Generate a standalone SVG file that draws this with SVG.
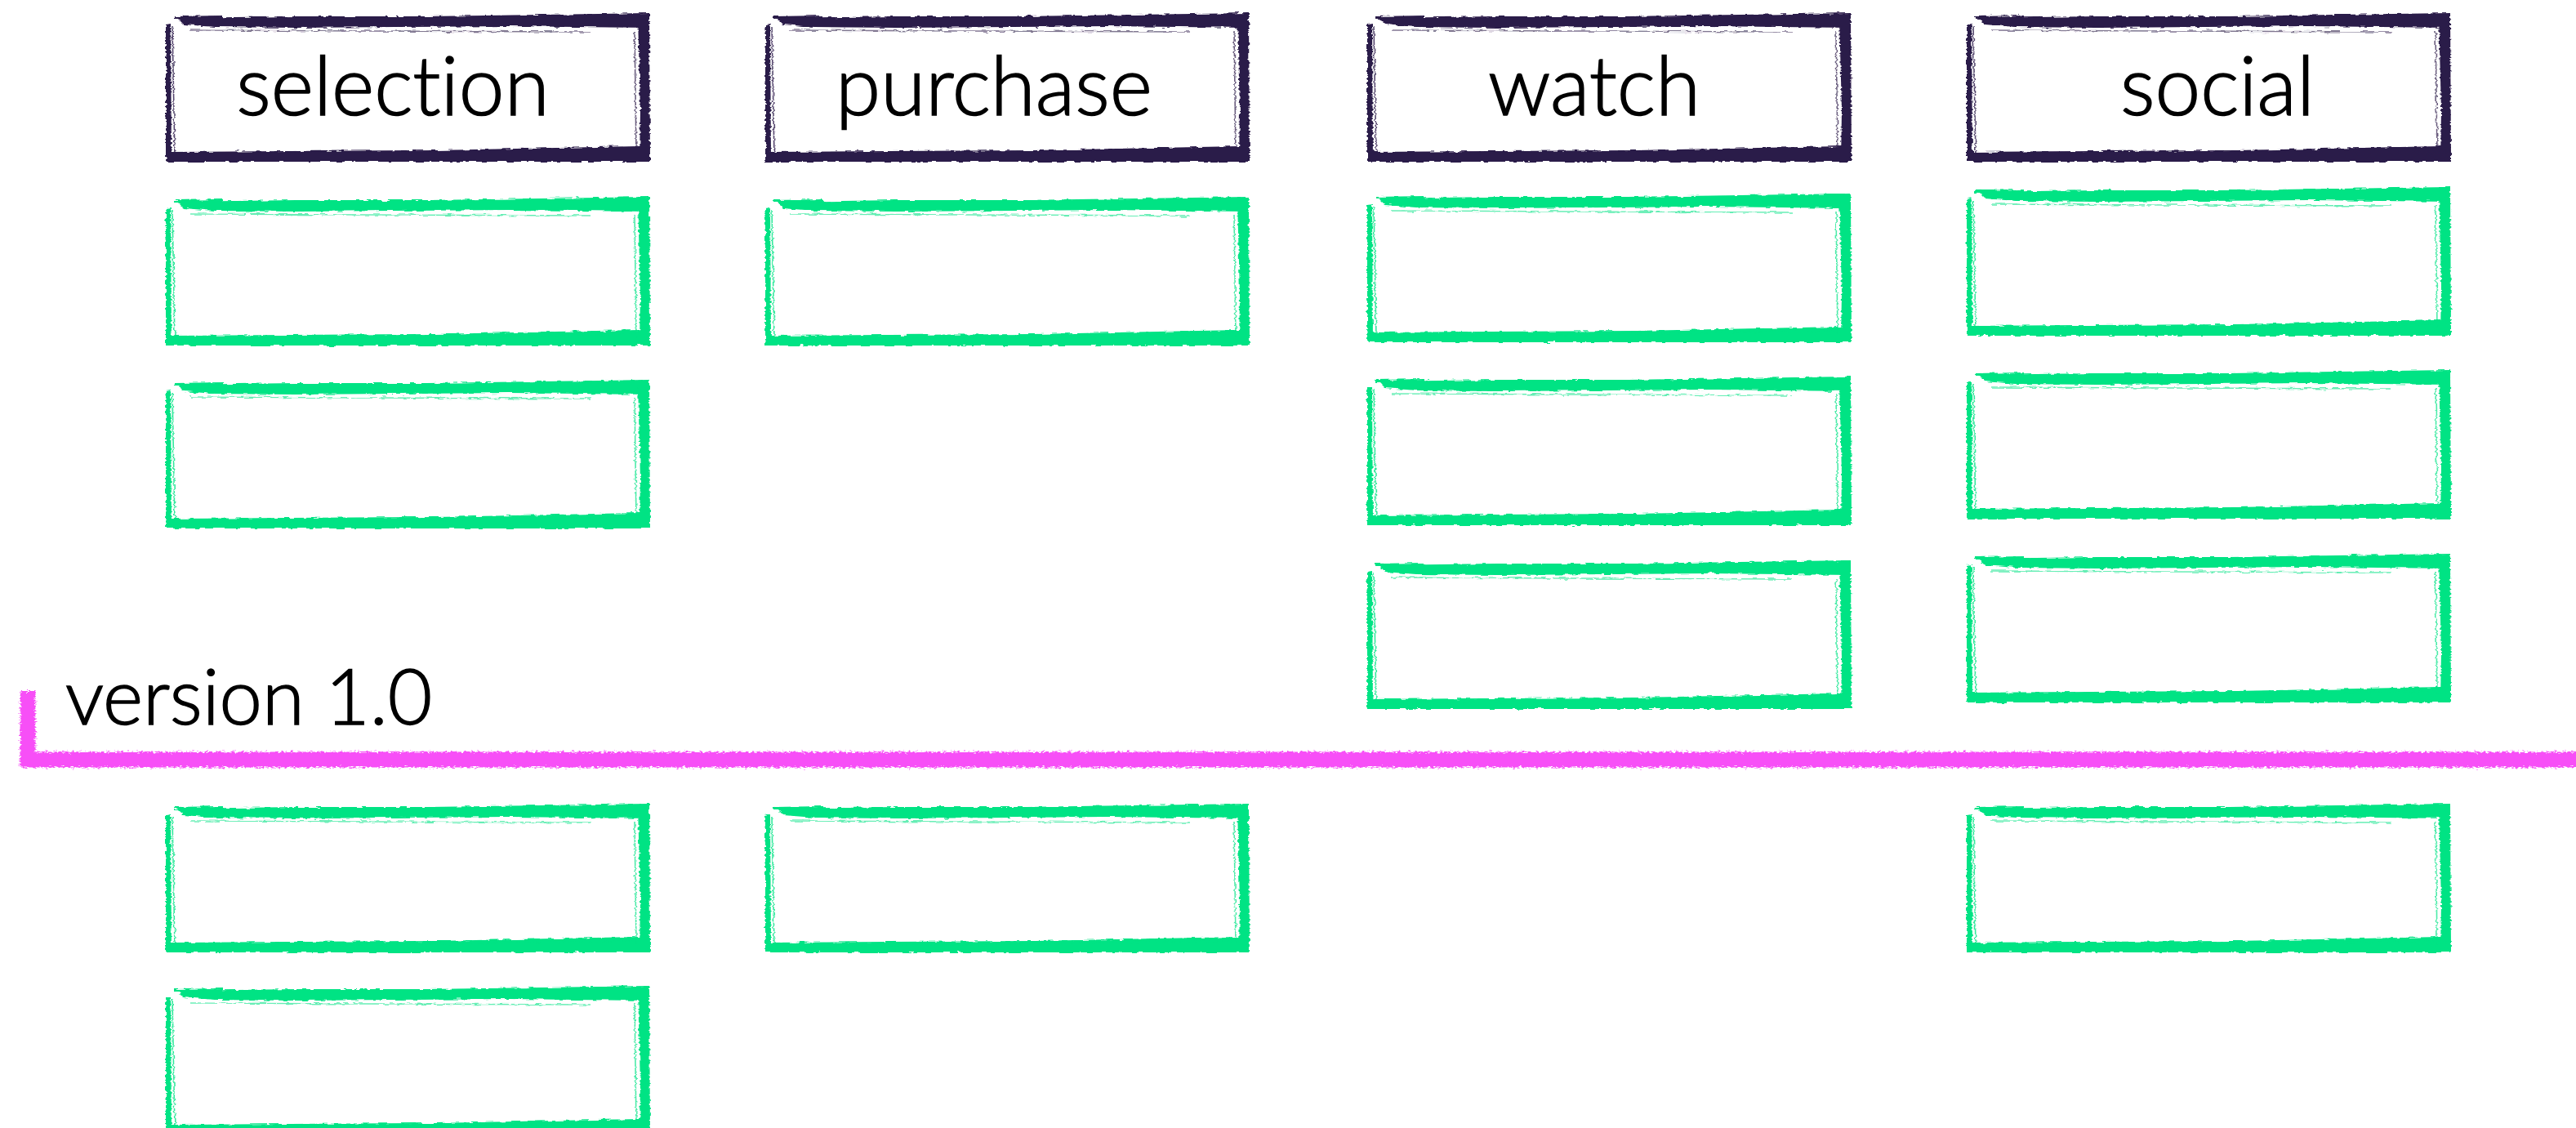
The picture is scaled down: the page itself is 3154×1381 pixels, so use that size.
<svg xmlns="http://www.w3.org/2000/svg" xmlns:xlink="http://www.w3.org/1999/xlink" width="3154" height="1381" viewBox="0 0 3154 1381">
<style>
.hdr{color:#2c1c4a}
.card{color:#02e384}
.lbl{font-family:Lato,"Noto Sans","Liberation Sans",sans-serif;font-weight:300;font-size:100px;fill:#000;stroke:#000;stroke-width:1.6;text-anchor:middle;font-variant-ligatures:none}
.ver{font-family:Lato,"Noto Sans","Liberation Sans",sans-serif;font-weight:300;font-size:94px;fill:#000;stroke:#000;stroke-width:1.5;font-variant-ligatures:none}
</style>
<defs>
<filter id="rough" x="-3%" y="-8%" width="106%" height="116%">
<feTurbulence type="fractalNoise" baseFrequency="0.09 0.35" numOctaves="2" seed="3" result="n"/>
<feDisplacementMap in="SourceGraphic" in2="n" scale="5" xChannelSelector="R" yChannelSelector="G"/>
</filter>
<filter id="chalk" x="-1%" y="-50%" width="102%" height="200%">
<feTurbulence type="fractalNoise" baseFrequency="0.25 0.6" numOctaves="2" seed="7" result="n"/>
<feDisplacementMap in="SourceGraphic" in2="n" scale="8" xChannelSelector="R" yChannelSelector="G"/>
</filter>
<g id="box" fill="currentColor" stroke="none">
<path d="M14,6 L160,4 L320,4 L592,0 L592,18 L420,16 L160,18 L60,17 L22,14 Z"/>
<path d="M10,4 L70,3 L70,6 L10,7 Z"/>
<path d="M578,4 L592,0 L593,181 L580,181 L581,120 Z"/>
<path d="M2,170 L150,169 L330,168 L580,163 L592,162 L592,182 L2,182 Z"/>
<path d="M0,14 L6,13 L7,182 L0,182 Z"/>
<path d="M8,16 L11,176" stroke="currentColor" stroke-width="1.6" fill="none" opacity="0.8"/>
<path d="M14,175 L300,172 L572,168" stroke="currentColor" stroke-width="1.4" fill="none" opacity="0.7"/>
<path d="M30,21 L250,22 L520,23" stroke="currentColor" stroke-width="1.4" fill="none" opacity="0.6"/>
<path d="M574,22 L576,172" stroke="currentColor" stroke-width="1.6" fill="none" opacity="0.7"/>
</g>
</defs>

<g id="connectors">
<g id="version-line" fill="none" stroke="#f74ff7" filter="url(#chalk)">
<path d="M34,846 L34,930 L3160,930" stroke-width="19" stroke-linejoin="miter"/>
</g>
</g>

<g id="header-selection" class="hdr" filter="url(#rough)"><use xlink:href="#box" x="203" y="16"/></g>
<g id="header-purchase" class="hdr" filter="url(#rough)"><use xlink:href="#box" x="937" y="16"/></g>
<g id="header-watch" class="hdr" filter="url(#rough)"><use xlink:href="#box" x="1674" y="16"/></g>
<g id="header-social" class="hdr" filter="url(#rough)"><use xlink:href="#box" x="2408" y="16"/></g>

<g id="header-labels">
<text class="lbl" x="481" y="141">selection</text>
<text class="lbl" x="1217" y="141">purchase</text>
<text class="lbl" x="1952" y="141">watch</text>
<text class="lbl" x="2715" y="141">social</text>
</g>

<g id="card-sel-1" class="card" filter="url(#rough)"><use xlink:href="#box" x="203" y="241"/></g>
<g id="card-sel-2" class="card" filter="url(#rough)"><use xlink:href="#box" x="203" y="465"/></g>
<g id="card-pur-1" class="card" filter="url(#rough)"><use xlink:href="#box" x="937" y="241"/></g>
<g id="card-wat-1" class="card" filter="url(#rough)"><use xlink:href="#box" x="1674" y="237"/></g>
<g id="card-wat-2" class="card" filter="url(#rough)"><use xlink:href="#box" x="1674" y="461"/></g>
<g id="card-wat-3" class="card" filter="url(#rough)"><use xlink:href="#box" x="1674" y="686"/></g>
<g id="card-soc-1" class="card" filter="url(#rough)"><use xlink:href="#box" x="2408" y="229"/></g>
<g id="card-soc-2" class="card" filter="url(#rough)"><use xlink:href="#box" x="2408" y="453"/></g>
<g id="card-soc-3" class="card" filter="url(#rough)"><use xlink:href="#box" x="2408" y="678"/></g>

<g id="card-sel-3" class="card" filter="url(#rough)"><use xlink:href="#box" x="203" y="984"/></g>
<g id="card-sel-4" class="card" filter="url(#rough)"><use xlink:href="#box" x="203" y="1207"/></g>
<g id="card-pur-2" class="card" filter="url(#rough)"><use xlink:href="#box" x="937" y="984"/></g>
<g id="card-soc-4" class="card" filter="url(#rough)"><use xlink:href="#box" x="2408" y="984"/></g>

<g id="version-label">
<text class="ver" x="80" y="887">version 1.0</text>
</g>
</svg>
